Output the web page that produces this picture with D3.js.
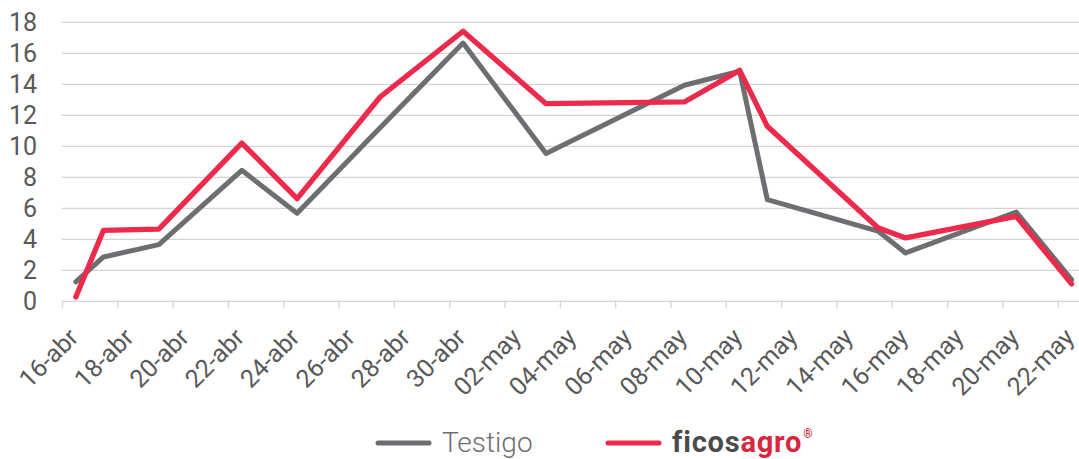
<!DOCTYPE html>
<html>
<head>
<meta charset="utf-8">
<script src="https://cdn.jsdelivr.net/npm/d3@7"></script>
<style>
  html, body { margin: 0; padding: 0; background: #fff; }
  svg { display: block; font-family: Roboto, "Noto Sans", sans-serif; }
</style>
</head>
<body>
<svg id="chart" width="1079" height="459"></svg>
<script>
// ---- data ----
const dates = ["2021-04-16","2021-04-17","2021-04-19","2021-04-22","2021-04-24","2021-04-27","2021-04-30",
               "2021-05-03","2021-05-08","2021-05-10","2021-05-11","2021-05-15","2021-05-16","2021-05-20","2021-05-22"];
const testigo   = [1.25, 2.86, 3.66, 8.45, 5.68, 11.2, 16.66, 9.53, 13.94, 14.85, 6.56, 4.53, 3.12, 5.76, 1.4];
const ficosagro = [0.28, 4.58, 4.66, 10.21, 6.62, 13.18, 17.42, 12.75, 12.86, 14.9, 11.29, 4.75, 4.09, 5.48, 1.12];
const yTicks = [0, 2, 4, 6, 8, 10, 12, 14, 16, 18];
const xTickLabels = ["16-abr","18-abr","20-abr","22-abr","24-abr","26-abr","28-abr","30-abr",
                     "02-may","04-may","06-may","08-may","10-may","12-may","14-may","16-may","18-may","20-may","22-may"];
const seriesNames = ["Testigo", "ficosagro"];

// ---- setup ----
const parse = d3.utcParse("%Y-%m-%d");
const svg = d3.select("#chart");
const day = 24 * 3600 * 1000;
const start = parse("2021-04-16");
const end = new Date(parse("2021-05-22").getTime() + day);
const x = d3.scaleUtc().domain([start, end]).range([62, 1085.4]);
const dayW = (x.range()[1] - x.range()[0]) / 37;
const y = d3.scaleLinear().domain([0, 18]).range([301.3, 22.3]);
const xc = d => x(d) + dayW / 2;

const tickDates = xTickLabels.map((_, i) => new Date(start.getTime() + i * 2 * day));

// gridlines
svg.append("g").selectAll("line").data(yTicks.filter(v => v > 0)).join("line")
  .attr("x1", 62).attr("x2", 1085).attr("y1", d => y(d)).attr("y2", d => y(d))
  .attr("stroke", "#d4d4d4").attr("stroke-width", 1.3);

// y axis labels
const yAxis = d3.axisLeft(y).tickValues(yTicks).tickSize(0).tickPadding(0).tickFormat(d3.format("d"));
const gy = svg.append("g").attr("transform", "translate(37,0)").call(yAxis);
gy.select(".domain").remove();
gy.selectAll("text").attr("font-size", 25).attr("fill", "#595959").attr("font-family", "Roboto");

// x axis
const xAxis = d3.axisBottom(x).tickValues(tickDates).tickSize(7).tickSizeOuter(0).tickFormat("");
const gx = svg.append("g").attr("transform", `translate(0,${y(0)})`).call(xAxis);
gx.select(".domain").attr("stroke", "#d4d4d4").attr("stroke-width", 1.3).attr("d", "M62,0H1085");
gx.selectAll(".tick line").attr("stroke", "#d4d4d4").attr("stroke-width", 1.3);

svg.append("g").selectAll("text").data(tickDates).join("text")
  .attr("transform", (d) => `translate(${xc(d) + 4},339) rotate(-45)`)
  .attr("text-anchor", "end")
  .attr("font-size", 25).attr("fill", "#595959")
  .text((d, i) => xTickLabels[i]);

// lines
const line = d3.line().x(d => xc(d.date)).y(d => y(d.v));
const mk = arr => dates.map((d, i) => ({ date: parse(d), v: arr[i] }));
svg.append("path").datum(mk(testigo)).attr("d", line)
  .attr("fill", "none").attr("stroke", "#6d6e71").attr("stroke-width", 5)
  .attr("stroke-linejoin", "round").attr("stroke-linecap", "round");
svg.append("path").datum(mk(ficosagro)).attr("d", line)
  .attr("fill", "none").attr("stroke", "#ec2a4b").attr("stroke-width", 5.3)
  .attr("stroke-linejoin", "round").attr("stroke-linecap", "round");

// legend
const lg = svg.append("g");
lg.append("line").attr("x1", 378).attr("x2", 429).attr("y1", 443).attr("y2", 443)
  .attr("stroke", "#6d6e71").attr("stroke-width", 5).attr("stroke-linecap", "round");
lg.append("text").attr("x", 442).attr("y", 452).attr("font-size", 28).attr("font-weight", 300)
  .attr("fill", "#6d6e71").text(seriesNames[0]);
lg.append("line").attr("x1", 608).attr("x2", 659).attr("y1", 443).attr("y2", 443)
  .attr("stroke", "#ec2a4b").attr("stroke-width", 5).attr("stroke-linecap", "round");
const logo = lg.append("text").attr("x", 672).attr("y", 452).attr("font-size", 29).attr("font-weight", 700)
  .attr("letter-spacing", 0.8);
logo.append("tspan").attr("fill", "#4b4b4e").text(seriesNames[1].slice(0, 5));
logo.append("tspan").attr("fill", "#d8283f").text(seriesNames[1].slice(5));
logo.append("tspan").attr("fill", "#d8283f").attr("font-size", 12).attr("dy", -14).attr("dx", 1).text("®");
</script>
</body>
</html>
